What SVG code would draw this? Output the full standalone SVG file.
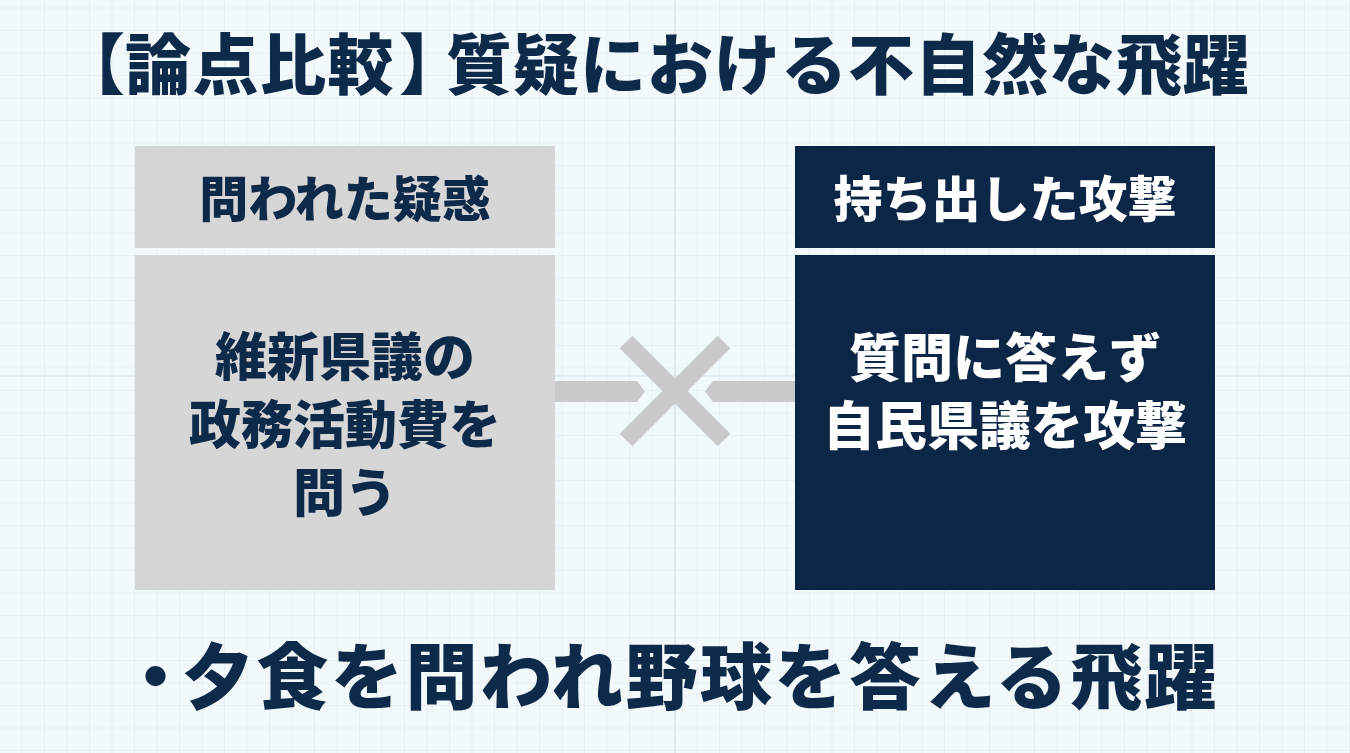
<svg xmlns="http://www.w3.org/2000/svg" width="1350" height="753" viewBox="0 0 1350 753">
<defs>
<pattern id="grid" width="22.5" height="22.5" patternUnits="userSpaceOnUse" x="0" y="8.5">
<path d="M22.5 0V22.5M0 22.5H22.5" fill="none" stroke="#dbe8ee" stroke-width="1"/>
</pattern>
<style>
text{font-family:"Noto Sans CJK JP","Noto Sans",sans-serif;font-weight:900;text-anchor:middle}
.start{text-anchor:start}
.half{font-feature-settings:"halt"}
.dark{fill:#0e2a4a}
.light{fill:#ffffff}
.gbox{fill:#d6d6d6}
.nbox{fill:#0b2646}
.conn{fill:#c9c9c9}
</style>
</defs>
<rect width="1350" height="753" fill="#f2f9fb"/>
<rect width="1350" height="753" fill="url(#grid)"/>
<path d="M675 0V753M0 376H1350" stroke="#d3e0e6" stroke-width="1.2"/>
<text class="dark start" x="92" y="89" font-size="66"><tspan class="half">【</tspan><tspan letter-spacing="1.5">論点比較</tspan><tspan class="half" dx="4">】</tspan><tspan dx="14" letter-spacing="1">質疑における不自然な飛躍</tspan></text>
<g id="connectors">
<path class="conn" d="M555 381H637L645 391.5L637 402H555Z"/>
<path class="conn" d="M795 381H713L705 391.5L713 402H795Z"/>
<path d="M626 342L724 440M724 342L626 440" stroke="#c9c9c9" stroke-width="18" fill="none"/>
</g>
<g id="left-header">
<rect class="gbox" x="135" y="146" width="420" height="102"/>
<text class="dark" x="345" y="217" font-size="49">問われた疑惑</text>
</g>
<g id="left-body">
<rect class="gbox" x="135" y="255" width="420" height="335"/>
<text class="dark" x="345" y="376" font-size="52">維新県議の</text>
<text class="dark" x="345" y="444" font-size="52">政務活動費を</text>
<text class="dark" x="345" y="512" font-size="52">問う</text>
</g>
<g id="right-header">
<rect class="nbox" x="795" y="146" width="420" height="102"/>
<text class="light" x="1005" y="217" font-size="49">持ち出した攻撃</text>
</g>
<g id="right-body">
<rect class="nbox" x="795" y="255" width="420" height="335"/>
<text class="light" x="1005" y="377" font-size="52">質問に答えず</text>
<text class="light" x="1005" y="445" font-size="52">自民県議を攻撃</text>
</g>
<text class="dark start" x="137.5" y="703" font-size="72"><tspan class="half">・</tspan><tspan dx="8.5" letter-spacing="2.5">夕食を問われ野球を答える飛躍</tspan></text>
</svg>
